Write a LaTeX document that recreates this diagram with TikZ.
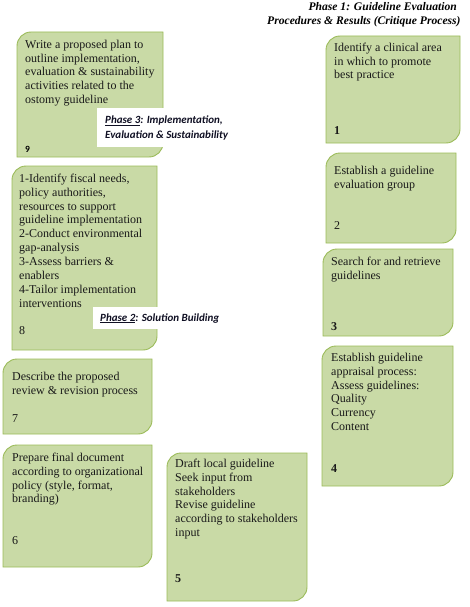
\documentclass[tikz,border=0pt]{standalone}
\usepackage{fontspec}
\setmainfont{Liberation Serif}
\newfontfamily\calib{Carlito}
\definecolor{gfill}{RGB}{201,218,166}
\definecolor{gline}{RGB}{155,187,89}
\definecolor{txt}{RGB}{25,25,25}
\definecolor{ptxt}{RGB}{15,15,35}
\newcommand\gbox[4]{\draw[gline, fill=gfill, line width=0.9pt] (#1,-#4) -- (#1,-#2-14) arc[start angle=180,end angle=90,radius=14pt] -- (#3,-#2) -- (#3,-#4+14) arc[start angle=0,end angle=-90,radius=14pt] -- cycle;}
\begin{document}
\begin{tikzpicture}[x=1pt,y=1pt,
  btext/.style={anchor=north west, inner sep=0pt, align=left, text=txt, font=\fontsize{12}{13.9}\selectfont},
  num/.style={anchor=base west, inner sep=0pt, text=txt, font=\fontsize{12}{14}\selectfont},
  phase/.style={anchor=base west, inner sep=0pt, align=left, text=ptxt, font=\calib\bfseries\itshape\fontsize{11}{14.5}\selectfont},
  ttl/.style={inner sep=0pt, font=\bfseries\itshape\fontsize{11.6}{14}\selectfont}]
\useasboundingbox (0,0) rectangle (469,-607);
% title
\node[ttl, anchor=base east] (t1) at (457,-11) {Phase 1: Guideline Evaluation};
\node[ttl, anchor=base west] (t2) at (267,-25) {Procedures \& Results (Critique Process)};
% box 9
\gbox{17}{32}{163}{157}
\node[btext] (b9) at (25,-48+9.73) {\strut Write a proposed plan to\\outline implementation,\\evaluation \& sustainability\\activities related  to the\\ostomy guideline};
\node[anchor=base west, inner sep=0pt, font=\calib\bfseries\fontsize{9.5}{11}\selectfont] (n9) at (25,-152.5) {9};
\fill[white] (97,-108) rectangle (232,-147);
\node[phase] (p3) at (105,-138) {\underline{Phase 3}: Implementation,\\Evaluation \& Sustainability};
% box 1
\gbox{326}{36}{460}{143}
\node[btext] (b1) at (334,-51+9.73) {\strut Identify a clinical  area\\in which to promote\\best practice};
\node[num, font=\bfseries\fontsize{12}{14}\selectfont] (n1) at (334,-135) {1};
% box 2
\gbox{326}{153}{456}{243}
\node[btext] (b2) at (334,-174+9.73) {\strut Establish a guideline\\evaluation  group};
\node[num] (n2) at (334,-229) {2};
% box 3
\gbox{323}{249}{453}{336}
\node[btext] (b3) at (331,-265+9.73) {\strut Search for and retrieve\\guidelines};
\node[num, font=\bfseries\fontsize{12}{14}\selectfont] (n3) at (331,-330) {3};
% box 4
\gbox{322}{346}{453}{486}
\node[btext] (b4) at (331,-361+9.73) {\strut Establish guideline\\appraisal process:\\Assess guidelines:\\Quality\\Currency\\Content};
\node[num, font=\bfseries\fontsize{12}{14}\selectfont] (n4) at (331,-472) {4};
% box 5
\gbox{167}{453}{307}{601}
\node[btext] (b5) at (175,-467+9.73) {\strut Draft local  guideline\\Seek input from\\stakeholders\\Revise guideline\\according to stakeholders\\input};
\node[num, font=\bfseries\fontsize{12}{14}\selectfont] (n5) at (175,-582) {5};
% box 8
\gbox{12}{166}{157}{350}
\node[btext] (b8) at (19,-182+9.73) {\strut 1-Identify fiscal needs,\\policy authorities,\\resources to support\\guideline implementation\\2-Conduct environmental\\gap-analysis\\3-Assess barriers \&\\enablers\\4-Tailor implementation\\interventions};
\node[num] (n8) at (19,-334) {8};
\fill[white] (93,-307) rectangle (225,-329);
\node[phase] (p2) at (100,-321) {\underline{Phase 2}: Solution Building};
% box 7
\gbox{3}{359}{152}{434}
\node[btext] (b7) at (12,-380+9.73) {\strut Describe the proposed\\review \& revision process};
\node[num] (n7) at (12,-422) {7};
% box 6
\gbox{3}{445}{152}{567}
\node[btext] (b6) at (12,-461+9.73) {\strut Prepare final document\\according to organizational\\policy (style, format,\\branding)};
\node[num] (n6) at (12,-544) {6};
\end{tikzpicture}
\end{document}
